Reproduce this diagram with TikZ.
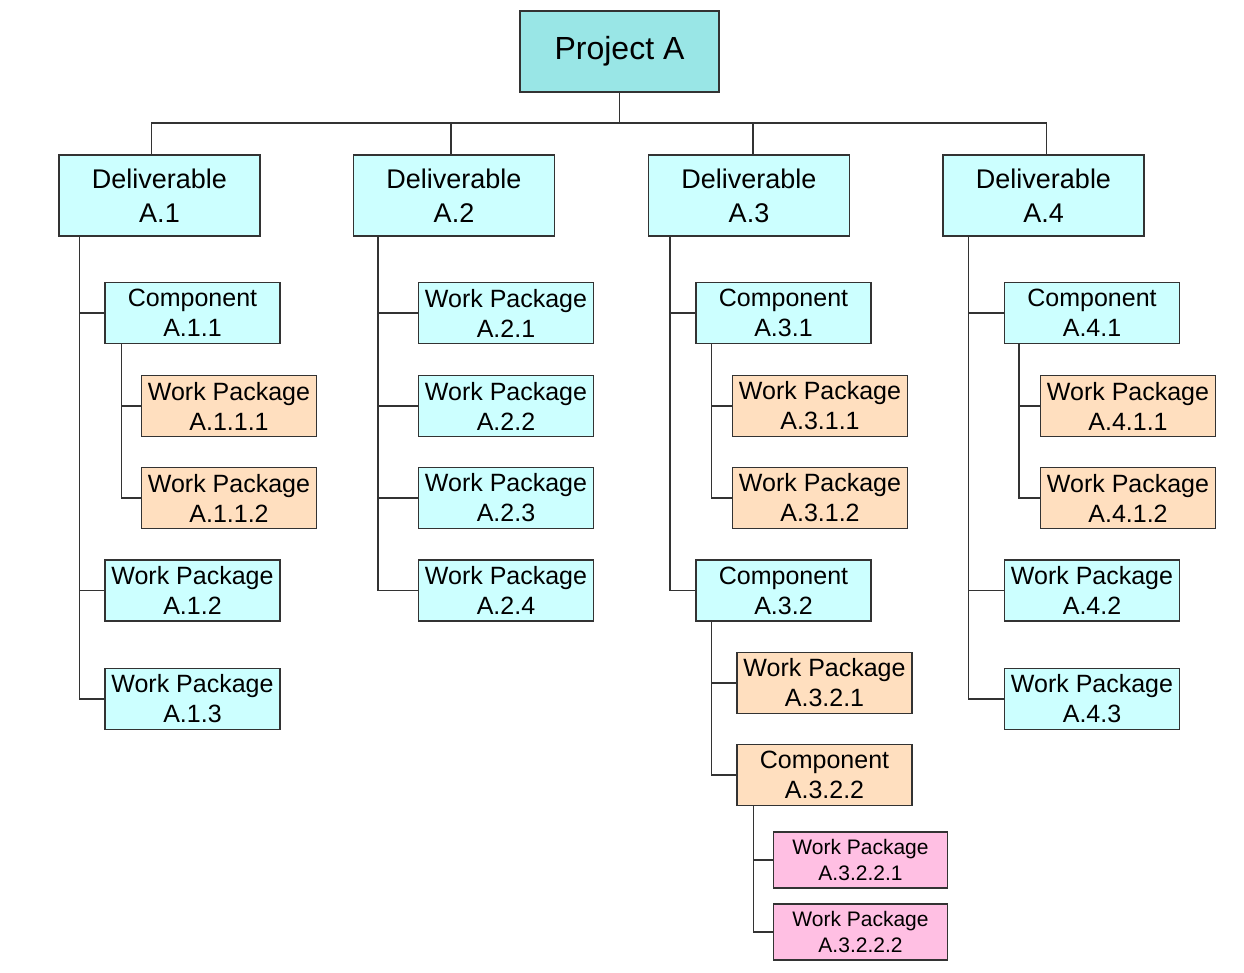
\documentclass[tikz,border=0pt]{standalone}
\usepackage{fontspec}
\setmainfont{Liberation Sans}
\definecolor{projfill}{HTML}{99E6E6}
\definecolor{delfill}{HTML}{CCFFFF}
\definecolor{orfill}{HTML}{FFDFBF}
\definecolor{pkfill}{HTML}{FFBFE3}
\definecolor{edge}{HTML}{333333}
\begin{document}
\begin{tikzpicture}[x=1pt, y=-1pt]
    % Define node styles
    \tikzstyle{box} = [rectangle, draw=edge, line width=1.3pt, align=center, inner sep=0pt]
    \tikzstyle{proj} = [box, fill=projfill, minimum width=199pt, minimum height=81pt, font=\fontsize{32}{38}\selectfont]
    \tikzstyle{deliv} = [box, fill=delfill, minimum width=201pt, minimum height=81pt, font=\fontsize{27}{34}\selectfont]
    \tikzstyle{item} = [box, fill=delfill, minimum width=175pt, minimum height=61pt, font=\fontsize{25}{30}\selectfont]
    \tikzstyle{orange} = [item, fill=orfill]
    \tikzstyle{pink} = [box, fill=pkfill, minimum width=174pt, minimum height=56pt, font=\fontsize{21}{26}\selectfont]
    \tikzstyle{link} = [draw=edge, line width=1.3pt]
    \useasboundingbox (0,0) rectangle (1244,972);

    % Top level
    \node[proj] (p) at (619.5,51.5) {Project A};
    \coordinate (bus) at (619.5,123);

    % Deliverables
    \node[deliv] (d1) at (159.5,195.5) {Deliverable\\A.1};
    \node[deliv] (d2) at (454,195.5) {Deliverable\\A.2};
    \node[deliv] (d3) at (749,195.5) {Deliverable\\A.3};
    \node[deliv] (d4) at (1043.5,195.5) {Deliverable\\A.4};

    % Branch A.1
    \node[item] (c11) at (192.5,313) {Component\\A.1.1};
    \node[orange] (w111) at (229,406) {Work Package\\A.1.1.1};
    \node[orange] (w112) at (229,498) {Work Package\\A.1.1.2};
    \node[item] (w12) at (192.5,590.5) {Work Package\\A.1.2};
    \node[item] (w13) at (192.5,699) {Work Package\\A.1.3};

    % Branch A.2
    \node[item] (w21) at (506,313) {Work Package\\A.2.1};
    \node[item] (w22) at (506,406) {Work Package\\A.2.2};
    \node[item] (w23) at (506,498) {Work Package\\A.2.3};
    \node[item] (w24) at (506,590.5) {Work Package\\A.2.4};

    % Branch A.3
    \node[item] (c31) at (783.5,313) {Component\\A.3.1};
    \node[orange] (w311) at (820,406) {Work Package\\A.3.1.1};
    \node[orange] (w312) at (820,498) {Work Package\\A.3.1.2};
    \node[item] (c32) at (783.5,590.5) {Component\\A.3.2};
    \node[orange] (w321) at (824.5,683) {Work Package\\A.3.2.1};
    \node[orange] (c322) at (824.5,775) {Component\\A.3.2.2};
    \node[pink] (w3221) at (860.5,860) {Work Package\\A.3.2.2.1};
    \node[pink] (w3222) at (860.5,932) {Work Package\\A.3.2.2.2};

    % Branch A.4
    \node[item] (c41) at (1092,313) {Component\\A.4.1};
    \node[orange] (w411) at (1128,406) {Work Package\\A.4.1.1};
    \node[orange] (w412) at (1128,498) {Work Package\\A.4.1.2};
    \node[item] (w42) at (1092,590.5) {Work Package\\A.4.2};
    \node[item] (w43) at (1092,699) {Work Package\\A.4.3};

    % Connectors
    \draw[link] (p.south) -- (bus);
    \draw[link] ([xshift=-8pt]d1.north) |- (bus) -| ([xshift=3pt]d4.north);
    \draw[link] ([xshift=-3pt]d2.north) -- ([xshift=-3pt]d2.north |- bus);
    \draw[link] ([xshift=4pt]d3.north) -- ([xshift=4pt]d3.north |- bus);

    \draw[link] ([xshift=21pt]d1.south west) |- (w13.west);
    \draw[link] ([xshift=21pt]d1.south west) |- (c11.west);
    \draw[link] ([xshift=21pt]d1.south west) |- (w12.west);
    \draw[link] ([xshift=17pt]c11.south west) |- (w112.west);
    \draw[link] ([xshift=17pt]c11.south west) |- (w111.west);

    \draw[link] ([xshift=25pt]d2.south west) |- (w24.west);
    \draw[link] ([xshift=25pt]d2.south west) |- (w21.west);
    \draw[link] ([xshift=25pt]d2.south west) |- (w22.west);
    \draw[link] ([xshift=25pt]d2.south west) |- (w23.west);

    \draw[link] ([xshift=22pt]d3.south west) |- (c32.west);
    \draw[link] ([xshift=22pt]d3.south west) |- (c31.west);
    \draw[link] ([xshift=16pt]c31.south west) |- (w312.west);
    \draw[link] ([xshift=16pt]c31.south west) |- (w311.west);
    \draw[link] ([xshift=16pt]c32.south west) |- (c322.west);
    \draw[link] ([xshift=16pt]c32.south west) |- (w321.west);
    \draw[link] ([xshift=17pt]c322.south west) |- (w3222.west);
    \draw[link] ([xshift=17pt]c322.south west) |- (w3221.west);

    \draw[link] ([xshift=26pt]d4.south west) |- (w43.west);
    \draw[link] ([xshift=26pt]d4.south west) |- (c41.west);
    \draw[link] ([xshift=26pt]d4.south west) |- (w42.west);
    \draw[link] ([xshift=15pt]c41.south west) |- (w412.west);
    \draw[link] ([xshift=15pt]c41.south west) |- (w411.west);
\end{tikzpicture}
\end{document}
